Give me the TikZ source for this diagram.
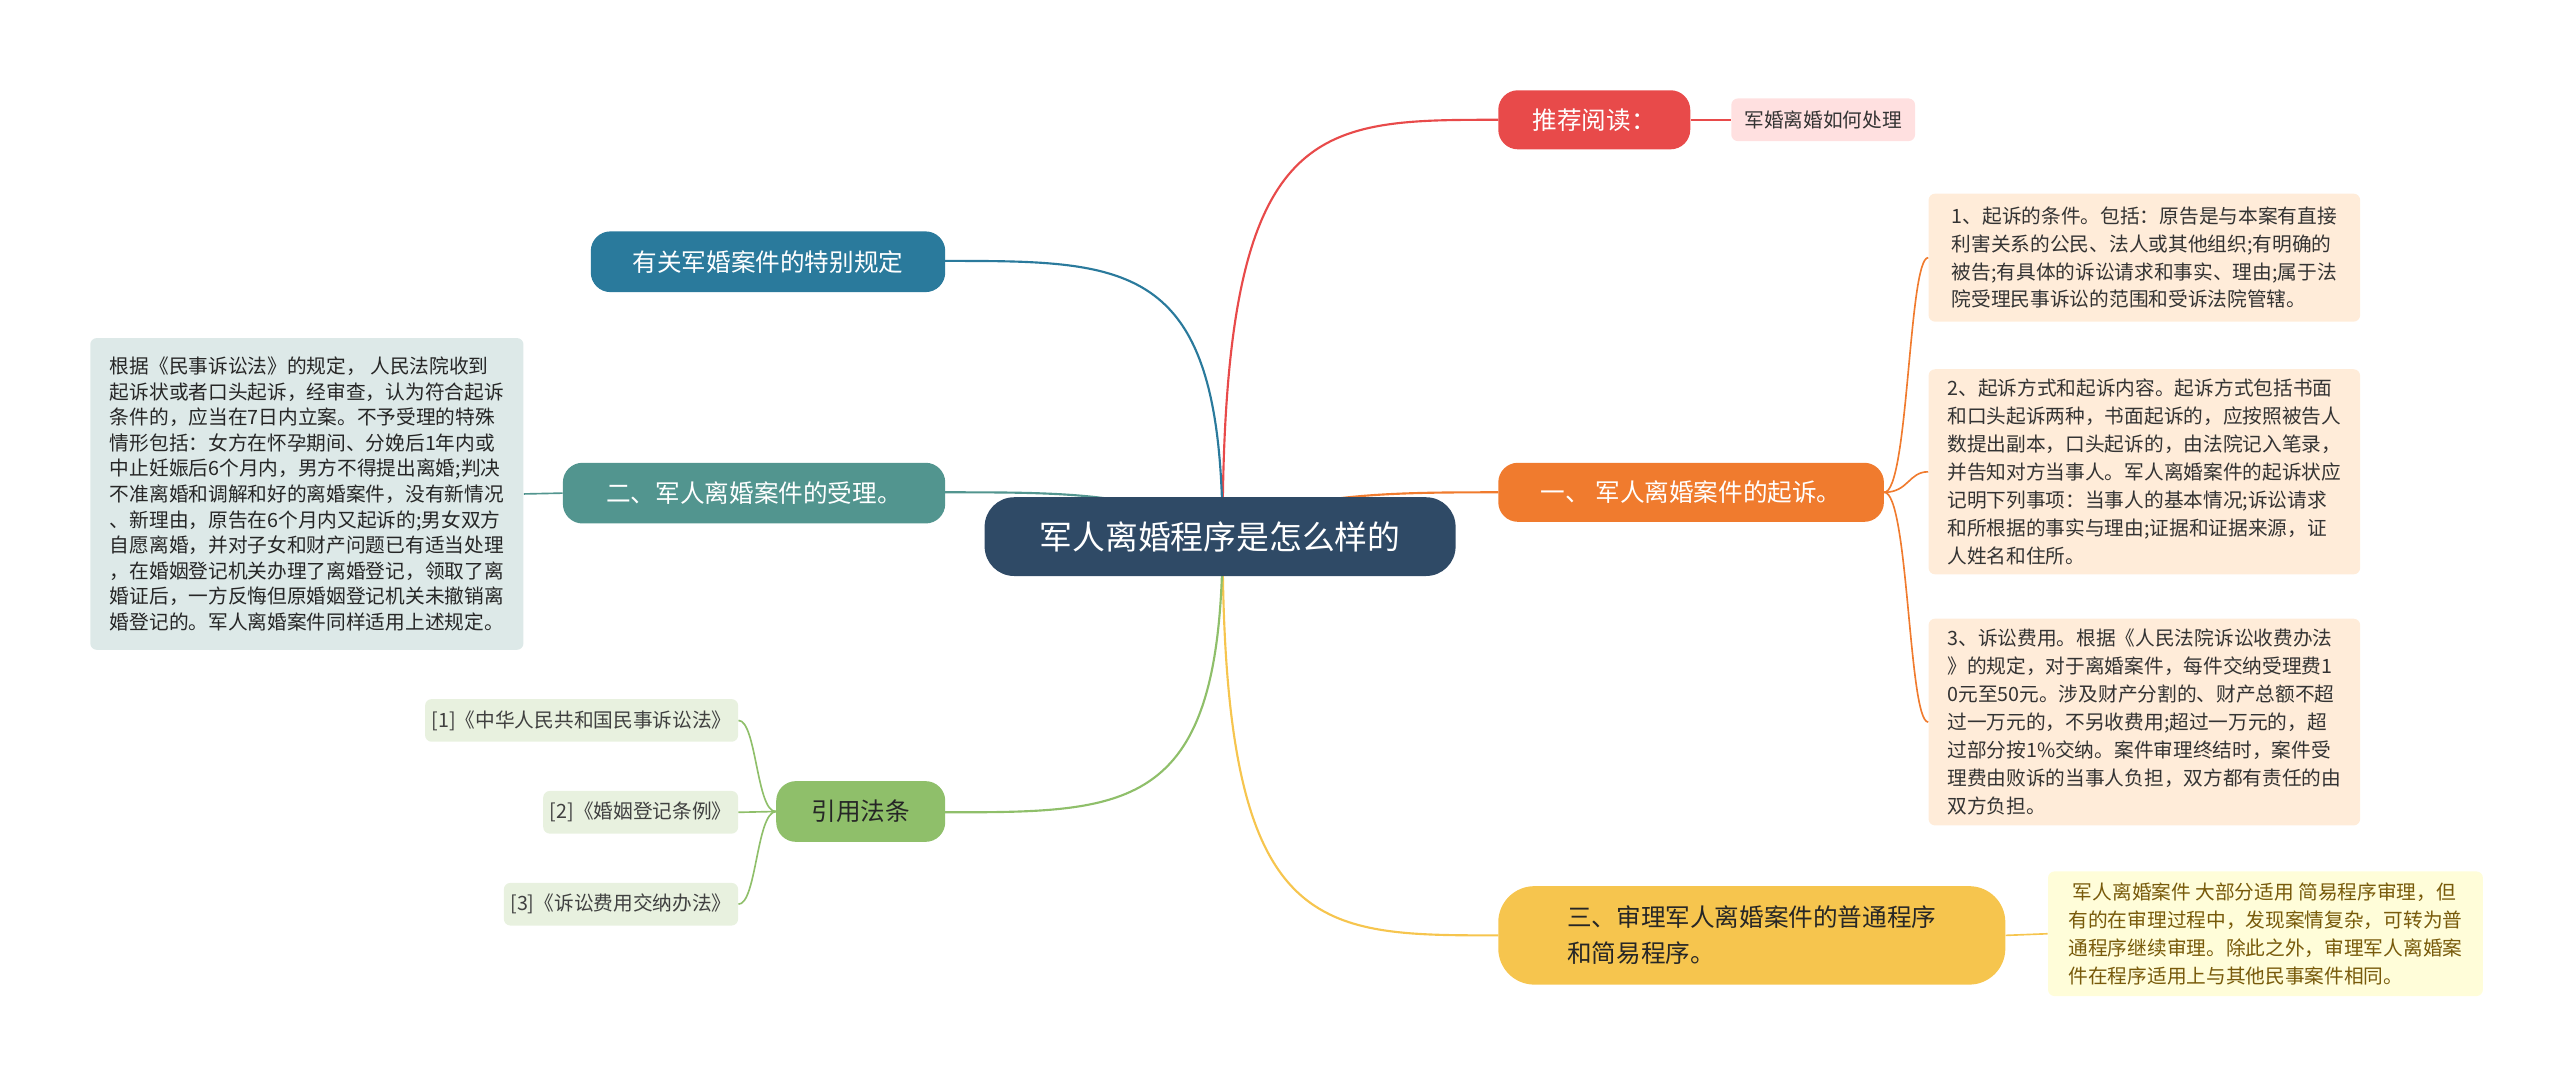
\documentclass[tikz,border=0pt]{standalone}
\usepackage{fontspec}
\setmainfont{Noto Sans CJK SC}
\begin{document}
\begin{tikzpicture}[x=1pt,y=-1pt,
  mainbox/.style={rounded corners=12pt,inner sep=0pt,font=\fontsize{15}{18}\selectfont},
  leafbox/.style={rounded corners=4pt,inner sep=5pt,align=left,font=\fontsize{12}{17}\selectfont},
  lawbox/.style={leafbox,fill={rgb,255:red,232;green,241;blue,223},text=black!75,inner sep=4pt,font=\fontsize{12}{14}\selectfont,minimum height=26pt,anchor=east},
  conn/.style={line width=1.3pt}]
\useasboundingbox (0,0) rectangle (1560,660);
\definecolor{cdark}{HTML}{2F4A66}
\definecolor{cred}{HTML}{E84A4A}
\definecolor{corange}{HTML}{F07B2E}
\definecolor{cyellow}{HTML}{F6C54E}
\definecolor{cteal}{HTML}{2A7A9C}
\definecolor{cgreen2}{HTML}{52958F}
\definecolor{clgreen}{HTML}{8FBF6A}
\coordinate (hub) at (745,327);
% connectors from center
\draw[conn,cred] (hub) .. controls (745,73) and (800,73) .. (913,73);
\draw[conn,corange] (hub) .. controls (780,300) and (850,300) .. (913,300);
\draw[conn,cyellow] (hub) .. controls (745,570) and (800,570) .. (913,570);
\draw[conn,cteal] (hub) .. controls (745,159) and (690,159) .. (576,159);
\draw[conn,cgreen2] (hub) .. controls (700,300) and (650,300) .. (576,300);
\draw[conn,clgreen] (hub) .. controls (745,495) and (690,495) .. (576,495);
% center
\node[mainbox,fill=cdark,text=white,minimum width=287pt,minimum height=48pt,rounded corners=18pt,font=\fontsize{20}{24}\selectfont] (c) at (743.5,327) {军人离婚程序是怎么样的};
% right
\node[mainbox,fill=cred,text=white,minimum width=117pt,minimum height=36pt] (tj) at (971.5,73) {推荐阅读：};
\node[leafbox,fill=red!12,text=black!80,inner sep=4pt,font=\fontsize{12}{14}\selectfont,minimum width=112pt,minimum height=26pt,align=center] (tjl) at (1111,73) {军婚离婚如何处理};
\draw[cred,line width=1pt] (tj.east) -- (tjl.west);
\node[mainbox,fill=corange,text=white,minimum width=235pt,minimum height=36pt] (q1) at (1030.5,300) {一、 军人离婚案件的起诉。};
\node[leafbox,fill=orange!15,text=black!80,minimum width=263pt,minimum height=78pt,anchor=west] (a1) at (1175,157) {1、起诉的条件。包括：原告是与本案有直接\\利害关系的公民、法人或其他组织;有明确的\\被告;有具体的诉讼请求和事实、理由;属于法\\院受理民事诉讼的范围和受诉法院管辖。};
\node[leafbox,fill=orange!15,text=black!80,minimum width=263pt,minimum height=125pt,anchor=west] (a2) at (1175,287.5) {2、起诉方式和起诉内容。起诉方式包括书面\\和口头起诉两种，书面起诉的，应按照被告人\\数提出副本，口头起诉的，由法院记入笔录，\\并告知对方当事人。军人离婚案件的起诉状应\\记明下列事项：当事人的基本情况;诉讼请求\\和所根据的事实与理由;证据和证据来源，证\\人姓名和住所。};
\node[leafbox,fill=orange!15,text=black!80,minimum width=263pt,minimum height=126pt,anchor=west] (a3) at (1175,440) {3、诉讼费用。根据《人民法院诉讼收费办法\\》的规定，对于离婚案件，每件交纳受理费1\\0元至50元。涉及财产分割的、财产总额不超\\过一万元的，不另收费用;超过一万元的，超\\过部分按1\%交纳。案件审理终结时，案件受\\理费由败诉的当事人负担，双方都有责任的由\\双方负担。};
\draw[corange,line width=1pt] (q1.east) .. controls (1163,300) and (1163,157) .. (a1.west);
\draw[corange,line width=1pt] (q1.east) .. controls (1163,300) and (1163,287.5) .. (a2.west);
\draw[corange,line width=1pt] (q1.east) .. controls (1163,300) and (1163,440) .. (a3.west);
\node[mainbox,fill=cyellow,text=black!85,minimum width=309pt,minimum height=60pt,rounded corners=22pt,align=left,font=\fontsize{15}{22}\selectfont] (q3) at (1067.5,570) {三、审理军人离婚案件的普通程序\\和简易程序。};
\node[leafbox,fill=yellow!15,text={rgb,255:red,120;green,90;blue,10},minimum width=265pt,minimum height=76pt] (b1) at (1380.5,569) {\ 军人离婚案件 大部分适用 简易程序审理，但\\有的在审理过程中，发现案情复杂，可转为普\\通程序继续审理。除此之外，审理军人离婚案\\件在程序适用上与其他民事案件相同。};
\draw[cyellow,line width=1pt] (q3.east) -- (b1.west);
% left
\node[mainbox,fill=cteal,text=white,minimum width=216pt,minimum height=37pt] (yk) at (468,159.5) {有关军婚案件的特别规定};
\node[mainbox,fill=cgreen2,text=white,minimum width=233pt,minimum height=37pt] (q2) at (459.5,300.5) {二、军人离婚案件的受理。};
\node[leafbox,fill={rgb,255:red,221;green,233;blue,232},text=black!85,minimum width=264pt,minimum height=190pt,font=\fontsize{12}{15.6}\selectfont] (l2) at (187,301) {根据《民事诉讼法》的规定， 人民法院收到\\起诉状或者口头起诉，经审查，认为符合起诉\\条件的，应当在7日内立案。不予受理的特殊\\情形包括：女方在怀孕期间、分娩后1年内或\\中止妊娠后6个月内，男方不得提出离婚;判决\\不准离婚和调解和好的离婚案件，没有新情况\\、新理由，原告在6个月内又起诉的;男女双方\\自愿离婚，并对子女和财产问题已有适当处理\\，在婚姻登记机关办理了离婚登记，领取了离\\婚证后，一方反悔但原婚姻登记机关未撤销离\\婚登记的。军人离婚案件同样适用上述规定。};
\draw[cgreen2,line width=1pt] (q2.west) -- (l2.east);
\node[mainbox,fill=clgreen,text=black!85,minimum width=103pt,minimum height=37pt] (yf) at (524.5,494.5) {引用法条};
\node[lawbox] (f1) at (450,439) {[1]《中华人民共和国民事诉讼法》};
\node[lawbox] (f2) at (450,495) {[2]《婚姻登记条例》};
\node[lawbox] (f3) at (450,551) {[3]《诉讼费用交纳办法》};
\draw[clgreen,line width=1pt] (yf.west) .. controls (461,495) and (461,439) .. (f1.east);
\draw[clgreen,line width=1pt] (yf.west) -- (f2.east);
\draw[clgreen,line width=1pt] (yf.west) .. controls (461,495) and (461,551) .. (f3.east);
\end{tikzpicture}
\end{document}
